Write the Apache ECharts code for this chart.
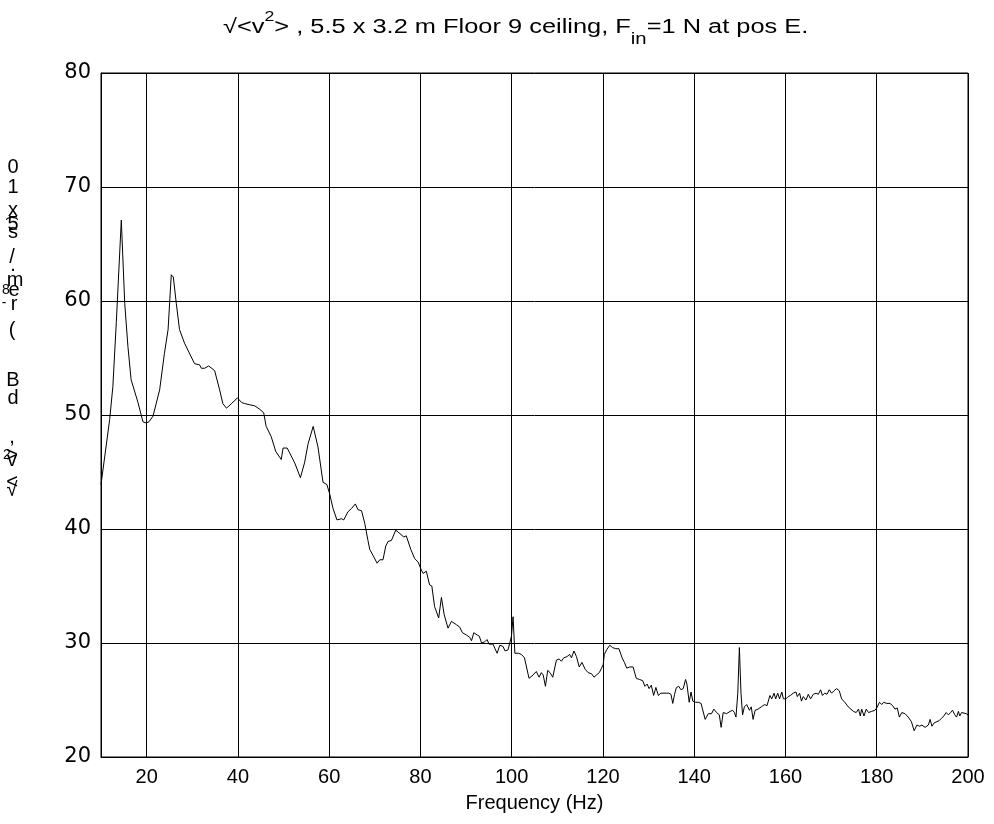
<!DOCTYPE html>
<html>
<head>
<meta charset="utf-8">
<script src="https://cdn.jsdelivr.net/npm/echarts@6/dist/echarts.min.js"></script>
<style>
  html, body { margin: 0; padding: 0; background: #ffffff; }
  #chart { width: 994px; height: 824px; }
</style>
</head>
<body>
<div id="chart"></div>
<script>
// Spectrum: frequency (Hz) and RMS level (dB)
const freqHz = [
  10.0, 11.9, 12.6, 13.35, 14.45, 15.2, 15.9, 16.6, 18.1, 19.2, 19.9, 20.5, 21.4, 22.85, 23.9, 24.7,
  25.4, 25.85, 26.5, 27.2, 28.3, 30.5, 31.6, 32.0, 32.7, 33.6, 34.9, 36.0, 36.7, 37.5, 38.6, 39.9,
  40.8, 41.5, 42.6, 43.7, 44.8, 45.65, 46.2, 47.3, 48.3, 49.5, 49.9, 50.8, 52.45, 53.7, 54.6, 55.4,
  56.5, 56.9, 57.55, 58.65, 59.5, 60.1, 60.85, 61.7, 62.7, 63.2, 64.1, 64.9, 65.75, 66.3, 67.1, 67.8,
  68.5, 68.9, 69.6, 70.5, 71.1, 71.8, 72.4, 72.9, 73.65, 74.6, 75.5, 76.35, 76.9, 77.9, 78.75, 79.5,
  80.2, 80.6, 81.3, 82.0, 82.5, 83.1, 84.0, 84.6, 85.2, 86.05, 86.8, 87.9, 88.6, 89.2, 90.1, 90.8,
  91.2, 91.7, 92.45, 92.9, 93.4, 94.1, 94.6, 95.05, 95.9, 96.8, 97.4, 98.1, 98.55, 99.2, 99.6, 99.95,
  100.3, 100.7, 101.5, 102.1, 102.8, 103.8, 104.7, 105.4, 106.0, 106.5, 106.9, 107.4, 107.9, 108.4, 109.0, 109.8,
  110.4, 110.9, 111.4, 112.1, 112.7, 113.1, 113.65, 114.2, 114.8, 115.4, 116.1, 116.75, 117.5, 118.05, 118.6, 119.2,
  119.7, 120.05, 120.3, 120.8, 121.5, 122.1, 122.8, 123.5, 124.2, 124.7, 125.2, 125.9, 126.6, 127.3, 128.0, 128.7,
  129.2, 129.7, 130.1, 130.6, 131.1, 131.6, 132.15, 132.7, 133.6, 134.4, 134.9, 135.3, 135.7, 136.1, 136.6, 137.1,
  137.6, 138.1, 138.4, 138.9, 139.3, 139.7, 140.3, 140.9, 141.5, 141.9, 142.4, 143.1, 143.8, 144.3, 144.9, 145.5,
  145.9, 146.35, 147.1, 147.85, 148.4, 148.8, 149.15, 149.55, 149.9, 150.25, 150.6, 151.0, 151.5, 152.1, 152.5, 152.9,
  153.35, 154.0, 154.7, 155.45, 155.95, 156.6, 157.0, 157.5, 157.85, 158.3, 158.7, 159.2, 159.55, 160.1, 160.6, 161.1,
  161.7, 162.3, 162.6, 163.1, 163.5, 163.9, 164.5, 165.0, 165.5, 166.1, 166.7, 167.2, 167.7, 168.1, 168.6, 169.1,
  169.6, 170.1, 170.6, 171.2, 171.8, 172.3, 173.0, 173.75, 174.9, 175.5, 176.0, 176.4, 176.7, 177.2, 177.7, 178.2,
  178.9, 179.6, 180.0, 180.6, 181.1, 181.5, 182.2, 182.9, 183.5, 184.0, 184.5, 184.95, 185.5, 186.2, 186.9, 187.6,
  188.2, 188.8, 189.35, 189.9, 190.6, 191.3, 191.7, 192.1, 192.6, 193.2, 193.7, 194.2, 194.7, 195.2, 195.7, 196.2,
  196.6, 197.1, 197.5, 197.9, 198.2, 198.6, 198.9, 199.6, 200.0
];
const levelDb = [
  43.9, 49.6, 52.5, 58.1, 67.1, 59.8, 56.0, 53.1, 51.1, 49.4, 49.3, 49.4, 49.9, 52.2, 55.4, 57.5,
  62.3, 62.1, 59.8, 57.5, 56.3, 54.5, 54.4, 54.1, 54.1, 54.3, 53.9, 52.2, 51.0, 50.6, 51.0, 51.5,
  51.1, 51.0, 50.9, 50.8, 50.5, 50.2, 49.0, 48.1, 46.8, 46.1, 47.1, 47.1, 45.8, 44.5, 45.8, 47.5,
  49.0, 48.9, 47.2, 44.1, 43.9, 43.1, 41.8, 40.8, 40.9, 40.8, 41.5, 41.8, 42.2, 41.7, 41.6, 40.5,
  39.0, 38.2, 37.7, 37.0, 37.3, 37.3, 38.5, 38.9, 39.0, 39.9, 39.6, 39.3, 39.4, 38.2, 37.4, 37.1,
  36.4, 36.1, 36.3, 35.1, 35.0, 33.2, 32.2, 34.0, 32.5, 31.3, 31.9, 31.6, 31.4, 30.9, 30.7, 30.5,
  30.2, 30.9, 30.7, 30.6, 30.0, 30.1, 30.3, 29.9, 29.9, 29.1, 29.8, 29.7, 29.3, 29.4, 29.4, 30.6,
  32.3, 29.1, 29.1, 29.0, 28.7, 26.9, 27.2, 27.5, 27.0, 27.4, 27.2, 26.2, 27.6, 27.4, 27.0, 28.5,
  28.6, 28.4, 28.7, 28.8, 29.0, 28.7, 29.3, 28.8, 27.9, 28.3, 27.7, 27.4, 27.3, 27.0, 27.2, 27.4,
  27.8, 28.1, 29.0, 29.4, 29.8, 29.6, 29.5, 29.5, 28.7, 28.3, 27.8, 27.9, 27.9, 26.9, 26.8, 26.7,
  26.2, 26.4, 26.0, 26.3, 25.4, 26.1, 25.4, 25.6, 25.6, 25.6, 25.5, 24.7, 25.5, 26.1, 26.2, 25.9,
  26.0, 26.8, 26.4, 24.8, 25.7, 24.9, 24.8, 24.8, 24.7, 24.8, 23.3, 23.8, 23.8, 24.2, 23.9, 23.7,
  22.6, 23.9, 23.8, 24.0, 24.1, 23.9, 23.5, 25.6, 29.6, 25.6, 23.7, 24.4, 24.6, 24.1, 24.4, 23.3,
  24.1, 24.2, 24.4, 24.6, 24.5, 25.4, 25.1, 25.6, 25.1, 25.6, 25.1, 25.7, 25.1, 25.1, 25.3, 25.4,
  25.6, 25.7, 25.3, 25.6, 24.9, 25.3, 25.0, 25.5, 25.1, 25.5, 25.6, 25.5, 25.9, 25.4, 25.6, 25.5,
  25.9, 25.6, 25.8, 26.0, 25.8, 25.1, 24.8, 24.4, 24.0, 23.9, 24.2, 23.6, 24.2, 23.6, 24.2, 23.9,
  24.0, 24.1, 24.3, 24.8, 24.6, 24.8, 24.7, 24.7, 24.5, 24.2, 24.3, 23.5, 23.9, 23.8, 23.5, 23.1,
  22.3, 22.8, 22.7, 22.8, 22.6, 22.8, 23.3, 22.7, 23.0, 23.1, 23.2, 23.4, 23.6, 23.9, 23.7, 23.9,
  24.1, 23.7, 23.5, 24.0, 23.6, 23.9, 23.8, 23.8, 23.7
];

// Axis tick labels
const xTickLabels = [20, 40, 60, 80, 100, 120, 140, 160, 180, 200];
const yTickLabels = [20, 30, 40, 50, 60, 70, 80];

const FONT = '"Liberation Sans", Arial, Helvetica, sans-serif';
const WIDE_FONT = '"DejaVu Sans", Verdana, sans-serif';

// Vertical axis caption, drawn glyph by glyph as stacked upright characters
const yCaptionGlyphs = [
  { ch: '0', x: 13, y: 167 },
  { ch: '1', x: 13, y: 187 },
  { ch: 'x', x: 13, y: 210 },
  { ch: ')', x: 11, y: 218, size: 13, rot: true },
  { ch: '5', x: 13, y: 224 },
  { ch: 's', x: 13, y: 232 },
  { ch: '/', x: 12, y: 257 },
  { ch: '.', x: 13, y: 265 },
  { ch: 'm', x: 15, y: 280 },
  { ch: '8', x: 6, y: 290, size: 14 },
  { ch: 'e', x: 14, y: 290 },
  { ch: '-', x: 4, y: 303, size: 14 },
  { ch: 'r', x: 14, y: 304 },
  { ch: '(', x: 12, y: 330 },
  { ch: 'B', x: 13, y: 380 },
  { ch: 'd', x: 13, y: 398 },
  { ch: ',', x: 12, y: 437 },
  { ch: '2', x: 7, y: 455, size: 14 },
  { ch: '>', x: 12, y: 455 },
  { ch: 'v', x: 12, y: 460 },
  { ch: '<', x: 12, y: 482 },
  { ch: '√', x: 12, y: 490 }
];

const seriesData = freqHz.map((f, i) => [f, levelDb[i]]);

const chart = echarts.init(document.getElementById('chart'), null, { renderer: 'canvas' });

const graphics = [
  {
    // Title with superscript and subscript, widened to the plot's type width
    type: 'text',
    x: 223,
    y: 15,
    scaleX: 1.27,
    scaleY: 1,
    style: {
      text: '{a|√<v}{sup|2}{a|> , 5.5 x 3.2 m Floor 9 ceiling, F}{sub|in}{a|=1 N at pos E.}',
      align: 'left',
      verticalAlign: 'top',
      fill: '#000',
      rich: {
        a: { fontFamily: FONT, fontSize: 20, lineHeight: 24, fill: '#000' },
        sup: { fontFamily: FONT, fontSize: 14, lineHeight: 16, padding: [0, 0, 20, 0], fill: '#000' },
        sub: { fontFamily: FONT, fontSize: 16, lineHeight: 18, padding: [26, 0, 0, 0], fill: '#000' }
      }
    }
  }
];
yCaptionGlyphs.forEach(g => {
  graphics.push({
    type: 'text',
    x: g.x,
    y: g.y,
    rotation: g.rot ? Math.PI / 2 : 0,
    style: {
      text: g.ch,
      fontFamily: FONT,
      fontSize: g.size || 20,
      fill: '#000',
      align: 'center',
      verticalAlign: 'middle'
    }
  });
});

chart.setOption({
  animation: false,
  backgroundColor: '#ffffff',
  grid: {
    left: 101, right: 26, top: 73, bottom: 67,
    show: true, borderColor: '#000', borderWidth: 1, backgroundColor: '#ffffff'
  },
  xAxis: {
    type: 'value',
    min: 10,
    max: 200,
    splitNumber: 10,
    name: 'Frequency (Hz)',
    nameLocation: 'middle',
    nameGap: 36,
    nameTextStyle: { fontFamily: FONT, fontSize: 20, color: '#000' },
    axisLine: { show: true, onZero: false, lineStyle: { color: '#000', width: 1 } },
    axisTick: { show: true, inside: true, length: 8, lineStyle: { color: '#000' } },
    axisLabel: {
      fontFamily: FONT, fontSize: 20, color: '#000', margin: 10,
      showMinLabel: false,
      formatter: v => (xTickLabels.includes(v) ? String(v) : '')
    },
    splitLine: { show: true, lineStyle: { color: '#000', width: 1 } }
  },
  yAxis: {
    type: 'value',
    min: 20,
    max: 80,
    interval: 10,
    axisLine: { show: true, onZero: false, lineStyle: { color: '#000', width: 1 } },
    axisTick: { show: true, inside: true, length: 8, lineStyle: { color: '#000' } },
    axisLabel: {
      fontFamily: WIDE_FONT, fontSize: 21, color: '#000', margin: 10,
      padding: [5, 0, 0, 0],
      formatter: v => (yTickLabels.includes(v) ? String(v) : '')
    },
    splitLine: { show: true, lineStyle: { color: '#000', width: 1 } }
  },
  series: [{
    type: 'line',
    data: seriesData,
    showSymbol: false,
    symbol: 'none',
    smooth: false,
    lineStyle: { color: '#000', width: 1 },
    z: 5
  }],
  graphic: graphics
});
</script>
</body>
</html>
